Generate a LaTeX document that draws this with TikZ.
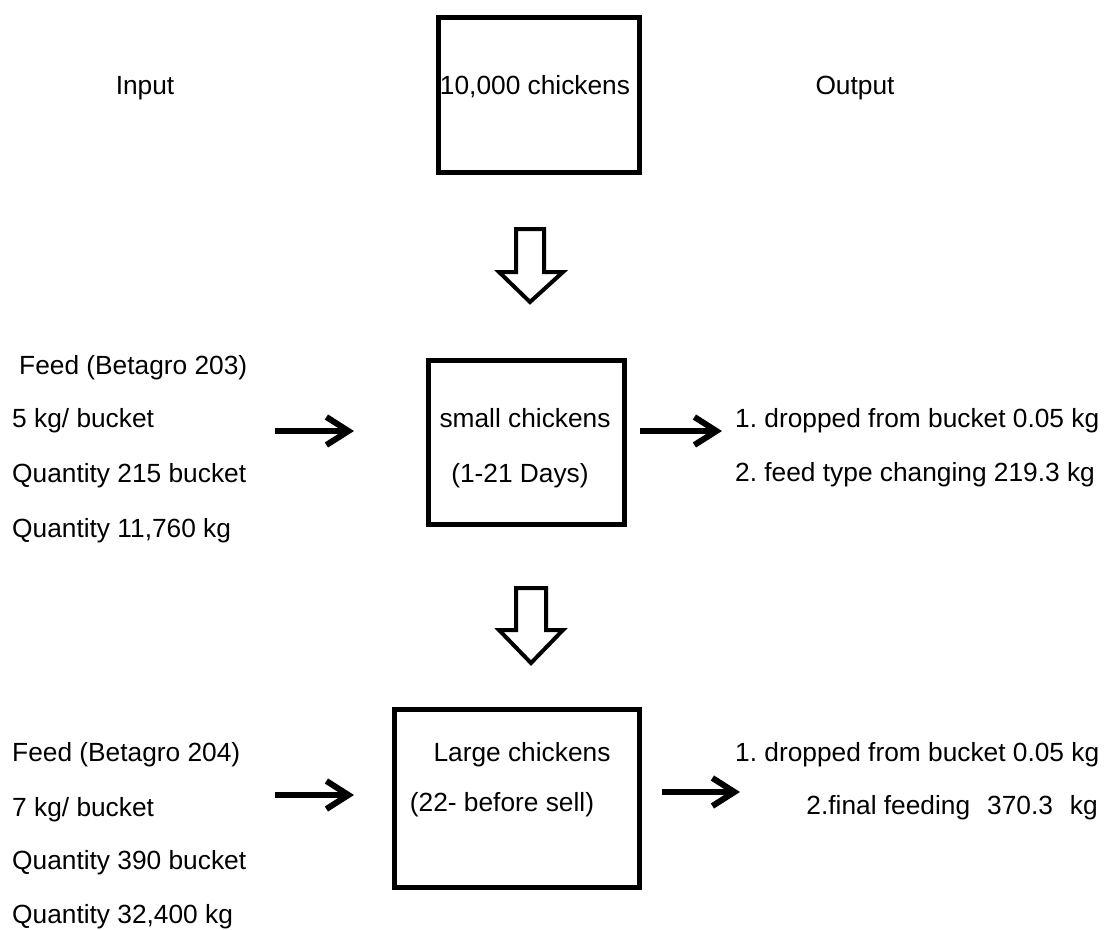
\documentclass[tikz,border=0pt]{standalone}
\usepackage{fontspec}
\setmainfont{Liberation Sans}
\usetikzlibrary{arrows.meta}
\frenchspacing
\begin{document}
\begin{tikzpicture}[x=1pt,y=-1pt,
  txt/.style={inner sep=0pt,text height=19pt,text depth=0pt,font=\fontsize{26.3}{30}\selectfont\frenchspacing},
  lbl/.style={txt,anchor=west},
  box/.style={draw,line width=5pt},
  blockarrow/.style={draw,line width=4pt,line join=miter,fill=white},
  flow/.style={line width=6pt,-{Straight Barb[length=22pt,width=28pt]}}]
\useasboundingbox (0,0) rectangle (1110,929);
% boxes
\draw[box] (438.5,17.5) rectangle (639.5,172.5);
\draw[box] (428.5,360.5) rectangle (624.5,524.5);
\draw[box] (394.5,709.5) rectangle (639.5,887.5);
% box texts
\node[txt] (top) at (535,85) {10,000 chickens};
\node[txt] (small) at (525,418) {small chickens};
\node[txt] (smalld) at (520,473) {(1-21 Days)};
\node[txt] (large) at (522,752) {Large chickens};
\node[txt] (larged) at (502,802) {(22- before sell)};
% headers
\node[txt] (in) at (145,85) {Input};
\node[txt] (out) at (855,85) {Output};
% block arrows
\draw[blockarrow] (516,229) -- (544,229) -- (544,272) -- (563,272) -- (530,302) -- (499,272) -- (516,272) -- cycle;
\draw[blockarrow] (516,588) -- (546,588) -- (546,630) -- (563,630) -- (531,663) -- (499,630) -- (516,630) -- cycle;
% left inputs (small)
\node[lbl] (f1) at (19,365) {Feed (Betagro 203)};
\node[lbl] (f2) at (12,418) {5 kg/ bucket};
\node[lbl] (f3) at (12,473) {Quantity 215 bucket};
\node[lbl] (f4) at (12,528) {Quantity 11,760 kg};
% outputs (small)
\node[lbl] (o1) at (735,418) {1. dropped from bucket 0.05 kg};
\node[lbl] (o2) at (735,472) {2. feed type changing 219.3 kg};
% left inputs (large)
\node[lbl] (g1) at (12,752) {Feed (Betagro 204)};
\node[lbl] (g2) at (12,807) {7 kg/ bucket};
\node[lbl] (g3) at (12,860) {Quantity 390 bucket};
\node[lbl] (g4) at (12,914) {Quantity 32,400 kg};
% outputs (large)
\node[lbl] (p1) at (735,752) {1. dropped from bucket 0.05 kg};
\node[txt,anchor=east] (p2) at (1098,805) {2.final feeding\hspace{17pt}370.3\hspace{17pt}kg};
% flow arrows
\coordinate (a1) at (275,431); \coordinate (b1) at (354,431);
\coordinate (a2) at (640,431); \coordinate (b2) at (722,431);
\coordinate (a3) at (275,795); \coordinate (b3) at (354,795);
\coordinate (a4) at (662,792); \coordinate (b4) at (740,792);
\draw[flow] (a1) -- (b1);
\draw[flow] (a2) -- (b2);
\draw[flow] (a3) -- (b3);
\draw[flow] (a4) -- (b4);
\end{tikzpicture}
\end{document}
